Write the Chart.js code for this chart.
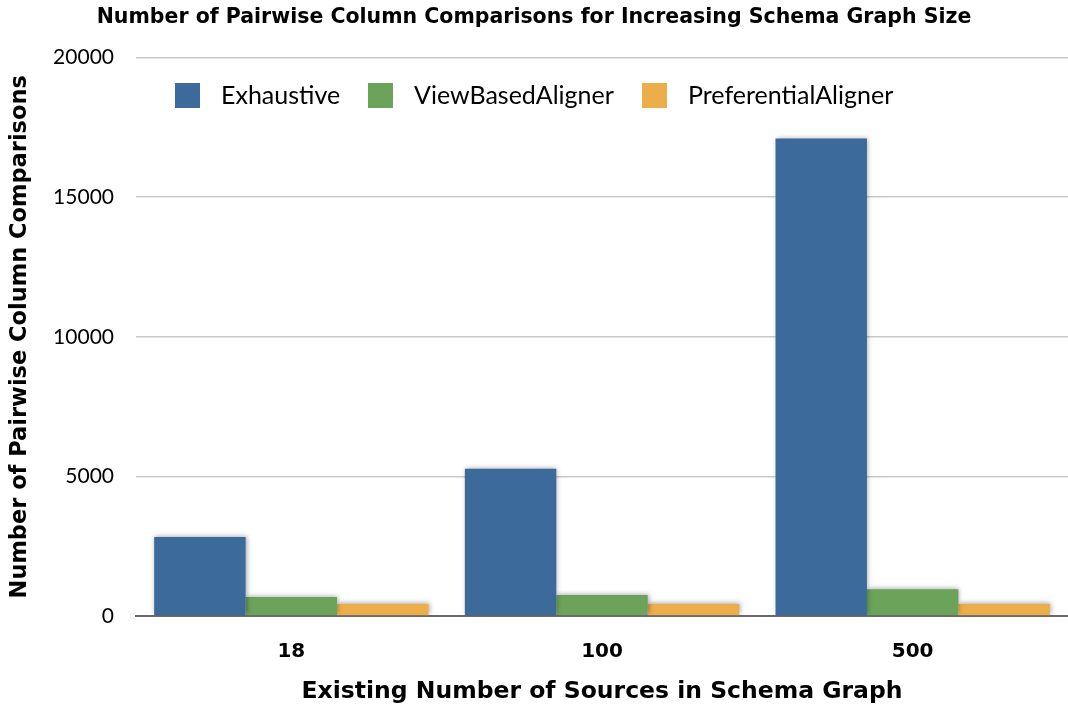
<!DOCTYPE html>
<html>
<head>
<meta charset="utf-8">
<script src="https://cdn.jsdelivr.net/npm/chart.js@4"></script>
<style>
  html, body { margin: 0; padding: 0; background: #fff; }
  #wrap { width: 1068px; height: 706px; }
</style>
</head>
<body>
<div id="wrap"><canvas id="myChart" width="1068" height="706"></canvas></div>
<script>
const categories = ["18", "100", "500"];
const exhaustive = [2830, 5270, 17100];
const viewBased = [680, 750, 960];
const preferential = [430, 430, 430];
const yTicks = [0, 5000, 10000, 15000, 20000];

const fontFamily = "Lato, 'Open Sans', sans-serif";
const boldFamily = "'DejaVu Sans', Lato, sans-serif";

// bar shadow + legend drawn inside the plot area
const extras = {
  id: "extras",
  beforeDatasetsDraw(chart) {
    const ctx = chart.ctx;
    ctx.save();
    ctx.shadowColor = "rgba(0,0,0,0.35)";
    ctx.shadowBlur = 5;
    ctx.shadowOffsetX = 1;
    ctx.shadowOffsetY = -1;
  },
  afterDatasetsDraw(chart) {
    chart.ctx.restore();
  },
  afterDraw(chart) {
    const ctx = chart.ctx;
    const xs = [175, 368, 642];
    ctx.save();
    ctx.font = "25px " + fontFamily;
    ctx.textBaseline = "middle";
    chart.data.datasets.forEach(function (ds, i) {
      ctx.fillStyle = ds.backgroundColor;
      ctx.fillRect(xs[i], 83, 25, 25);
      ctx.fillStyle = "#000";
      ctx.fillText(ds.label, xs[i] + 46, 96);
    });
    ctx.restore();
  }
};

const config = {
  type: "bar",
  data: {
    labels: categories,
    datasets: [
      { label: "Exhaustive", data: exhaustive, backgroundColor: "#3c6a9a" },
      { label: "ViewBasedAligner", data: viewBased, backgroundColor: "#6ba35a" },
      { label: "PreferentialAligner", data: preferential, backgroundColor: "#ecae4b" }
    ]
  },
  options: {
    responsive: false,
    animation: false,
    layout: { padding: { left: 0, right: 0, top: 0, bottom: 0 } },
    datasets: {
      bar: { barPercentage: 1, categoryPercentage: 0.883, borderWidth: 0 }
    },
    plugins: {
      legend: { display: false },
      tooltip: { enabled: false },
      title: {
        display: true,
        text: "Number of Pairwise Column Comparisons for Increasing Schema Graph Size",
        color: "#000",
        font: { family: boldFamily, size: 20.5, weight: "bold" },
        padding: { top: 5, bottom: 28 }
      }
    },
    scales: {
      x: {
        grid: { display: false },
        border: { display: true, color: "#6a6a6a", width: 2 },
        ticks: {
          color: "#000",
          padding: 16,
          font: { family: boldFamily, size: 20, weight: "bold" }
        },
        title: {
          display: true,
          text: "Existing Number of Sources in Schema Graph",
          color: "#000",
          font: { family: boldFamily, size: 23.5, weight: "bold" },
          padding: { top: 10, bottom: 0 }
        },
        afterFit(scale) { scale.height = 90; }
      },
      y: {
        min: 0,
        max: 20000,
        afterBuildTicks(scale) {
          scale.ticks = yTicks.map(function (v) { return { value: v }; });
        },
        grid: { color: "#c8c8c8", lineWidth: 1.5, drawTicks: false },
        border: { display: false },
        ticks: {
          color: "#000",
          padding: 22,
          font: { family: fontFamily, size: 21 },
          callback: function (v) { return String(v); }
        },
        title: {
          display: true,
          text: "Number of Pairwise Column Comparisons",
          color: "#000",
          font: { family: boldFamily, size: 22.5, weight: "bold" },
          padding: { top: 7, bottom: 0 }
        },
        afterFit(scale) { scale.width = 136; }
      }
    }
  },
  plugins: [extras]
};

new Chart(document.getElementById("myChart"), config);
</script>
</body>
</html>
